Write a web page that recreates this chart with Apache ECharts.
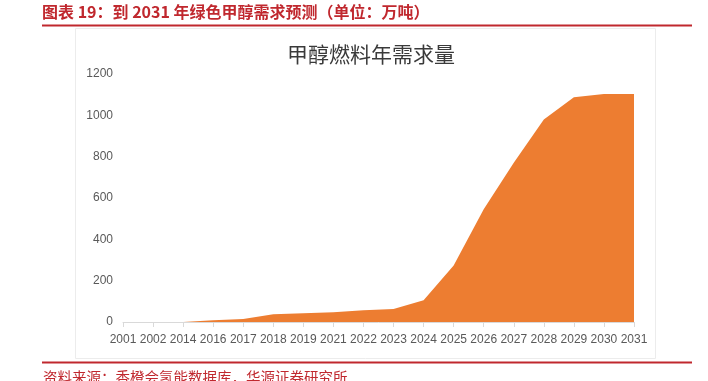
<!DOCTYPE html>
<html>
<head>
<meta charset="utf-8">
<script src="https://cdn.jsdelivr.net/npm/echarts@6/dist/echarts.min.js"></script>
<style>
    html, body { margin: 0; padding: 0; background: #fff; }
    #chart-container { width: 708px; height: 381px; }
</style>
</head>
<body>
<div id="chart-container"></div>
<script>
// years on the x axis (as printed, not evenly spaced)
var years = ['2001', '2002', '2014', '2016', '2017', '2018', '2019', '2021', '2022',
    '2023', '2024', '2025', '2026', '2027', '2028', '2029', '2030', '2031'];
// methanol fuel demand, 10k tonnes
var demand = [0, 0, 0, 8, 14, 37, 42, 47, 57, 63, 105, 273, 546, 771, 980, 1088, 1103, 1103];
var yTicks = [0, 200, 400, 600, 800, 1000, 1200];

var headerText = '图表 19：到 2031 年绿色甲醇需求预测（单位：万吨）';
var chartTitle = '甲醇燃料年需求量';
var sourceText = '资料来源：香橙会氢能数据库，华源证券研究所';

var red = '#c0282e';

var chartDom = document.getElementById('chart-container');
var myChart = echarts.init(chartDom, null, {renderer: 'canvas'});
var option;

option = {
    animation: false,
    backgroundColor: '#fff',
    title: {
        text: chartTitle,
        left: 366,
        top: 39,
        textAlign: 'center',
        textStyle: {
            fontFamily: 'Noto Sans CJK SC',
            fontWeight: 'normal',
            fontSize: 21,
            color: '#3a3a3a'
        }
    },
    graphic: [
        {
            type: 'text',
            left: 42,
            top: 4,
            style: {
                text: headerText,
                font: 'bold 16px "Noto Sans CJK SC"',
                fill: red
            }
        },
        {
            type: 'line',
            shape: {x1: 42, y1: 25.5, x2: 692, y2: 25.5},
            style: {stroke: red, lineWidth: 2}
        },
        {
            type: 'rect',
            shape: {x: 75.5, y: 28.5, width: 580, height: 330},
            style: {fill: 'none', stroke: '#ececec', lineWidth: 1}
        },
        {
            type: 'line',
            shape: {x1: 42, y1: 362.5, x2: 692, y2: 362.5},
            style: {stroke: red, lineWidth: 2}
        },
        {
            type: 'text',
            left: 43,
            top: 370,
            style: {
                text: sourceText,
                font: '14.5px "Noto Sans CJK SC"',
                fill: red
            }
        }
    ],
    grid: {
        left: 123,
        right: 74,
        top: 74,
        bottom: 59
    },
    xAxis: {
        type: 'category',
        boundaryGap: false,
        data: years,
        axisLine: {lineStyle: {color: '#d9d9d9'}},
        axisTick: {show: true, interval: 0, length: 5, lineStyle: {color: '#d9d9d9'}},
        axisLabel: {
            interval: 0,
            margin: 12,
            fontFamily: 'Liberation Sans',
            fontSize: 12,
            color: '#595959'
        }
    },
    yAxis: {
        type: 'value',
        min: yTicks[0],
        max: yTicks[yTicks.length - 1],
        interval: 200,
        splitLine: {show: false},
        axisLine: {show: false},
        axisTick: {show: false},
        axisLabel: {
            margin: 10,
            fontFamily: 'Liberation Sans',
            fontSize: 12,
            color: '#595959',
            formatter: function (value) {
                return String(value);
            }
        }
    },
    series: [
        {
            name: chartTitle,
            type: 'line',
            data: demand,
            symbol: 'none',
            lineStyle: {width: 0, color: '#ed7d31'},
            itemStyle: {color: '#ed7d31'},
            areaStyle: {color: '#ed7d31', opacity: 1}
        }
    ]
};

option && myChart.setOption(option);
</script>
</body>
</html>
